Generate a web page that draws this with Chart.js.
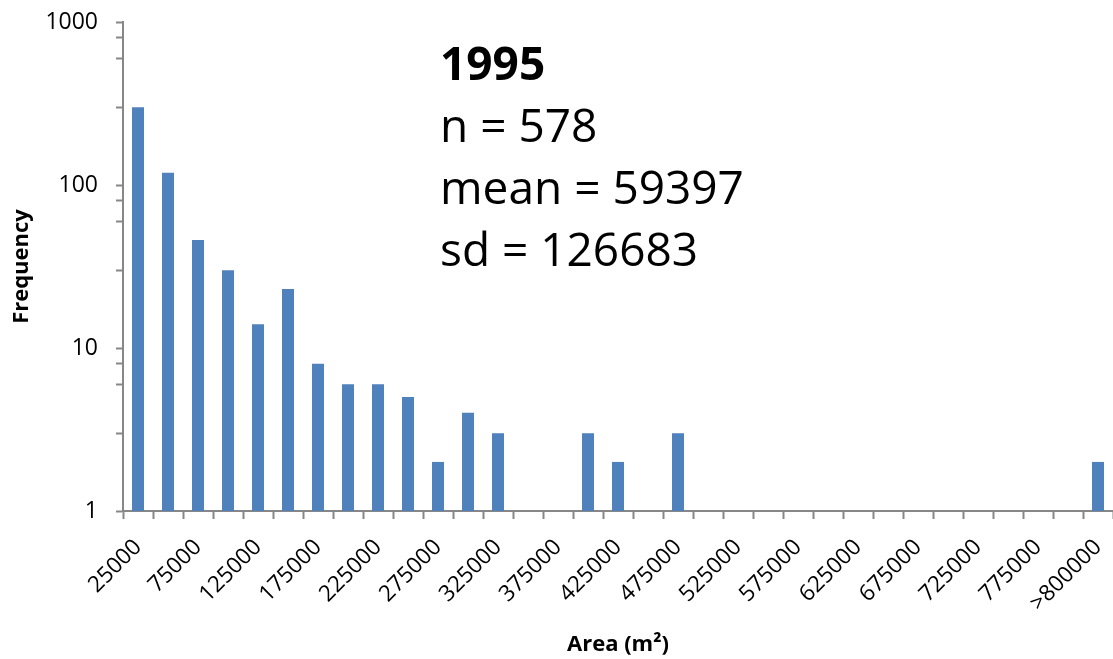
<!DOCTYPE html>
<html lang="en">
<head>
  <meta charset="UTF-8">
  <title>Area histogram 1995</title>
  <script src="https://cdn.jsdelivr.net/npm/chart.js"></script>
  <style>
    html, body { margin: 0; padding: 0; background: #fff; overflow: hidden; }
    .container { width: 1113px; height: 659px; }
  </style>
</head>
<body>
  <div class="container">
    <canvas id="myChart"></canvas>
  </div>
  <script>
    // bin labels (m2), one per bar
    const bins = ['25000', '50000', '75000', '100000', '125000', '150000', '175000', '200000',
      '225000', '250000', '275000', '300000', '325000', '350000', '375000', '400000',
      '425000', '450000', '475000', '500000', '525000', '550000', '575000', '600000',
      '625000', '650000', '675000', '700000', '725000', '750000', '775000', '800000', '>800000']
    // counts per bin (empty bins are null on the log axis)
    const counts = [300, 119, 46, 30, 14, 23, 8, 6, 6, 5, 2, 4, 3, null, null, 3,
      2, null, 3, null, null, null, null, null, null, null, null, null, null, null, null, null, 2]
    const yTickLabels = [1, 10, 100, 1000]
    const statsLines = ['n = 578', 'mean = 59397', 'sd = 126683']
    const yearLabel = '1995'

    const axisGray = '#878787'
    const font = "'Open Sans', 'Liberation Sans', sans-serif"

    const statsText = {
      id: 'statsText',
      afterDraw(chart) {
        const ctx = chart.ctx
        ctx.save()
        ctx.fillStyle = '#000'
        ctx.textAlign = 'left'
        ctx.textBaseline = 'alphabetic'
        ctx.font = 'bold 46px ' + font
        ctx.fillText(yearLabel, 440, 80)
        ctx.font = '46px ' + font
        statsLines.forEach((line, i) => {
          ctx.fillText(line, 440, 142 + i * 62)
        })
        ctx.restore()
      }
    }

    const ctx = document.getElementById('myChart')
    new Chart(ctx, {
      type: 'bar',
      data: {
        labels: bins,
        datasets: [{
          label: 'Frequency',
          data: counts,
          backgroundColor: '#4F81BD',
          borderWidth: 0,
          barPercentage: 0.4,
          categoryPercentage: 1.0
        }]
      },
      options: {
        responsive: true,
        maintainAspectRatio: false,
        animation: false,
        layout: { padding: { top: 22, right: 0, bottom: 0, left: 0 } },
        plugins: {
          legend: { display: false },
          tooltip: { enabled: false }
        },
        scales: {
          x: {
            grid: {
              display: true,
              drawOnChartArea: false,
              drawTicks: true,
              tickLength: 8,
              tickWidth: 2,
              tickColor: axisGray,
              offset: true
            },
            border: { display: true, color: axisGray, width: 2 },
            ticks: {
              autoSkip: false,
              maxRotation: 45,
              minRotation: 45,
              padding: 15,
              color: '#000',
              font: { family: font, size: 22.5 },
              callback: function (value, index) {
                return index % 2 === 0 ? this.getLabelForValue(value) : ''
              }
            },
            title: {
              display: true,
              text: 'Area (m²)',
              color: '#000',
              font: { family: font, size: 22, weight: 'bold' },
              padding: { top: 0, bottom: 1 }
            },
            afterFit(scale) {
              scale.height = 148
              scale.paddingLeft = 0
              scale.paddingRight = 0
            }
          },
          y: {
            type: 'logarithmic',
            min: 1,
            max: 1000,
            grid: {
              display: true,
              drawOnChartArea: false,
              drawTicks: true,
              tickLength: 7,
              tickWidth: 2,
              tickColor: axisGray
            },
            border: { display: true, color: axisGray, width: 2 },
            ticks: {
              padding: 18,
              color: '#000',
              font: { family: font, size: 23 },
              callback: (value) => yTickLabels.includes(value) ? String(value) : ''
            },
            afterBuildTicks(scale) {
              // keep 1..9 per decade, like the spreadsheet minor ticks
              scale.ticks = scale.ticks.filter(t => {
                const p = Math.pow(10, Math.floor(Math.log10(t.value) + 1e-9))
                return Math.abs(t.value / p - Math.round(t.value / p)) < 1e-9
              })
            },
            title: {
              display: true,
              text: 'Frequency',
              color: '#000',
              font: { family: font, size: 22, weight: 'bold' },
              padding: { top: 9, bottom: 0 }
            },
            afterFit(scale) {
              scale.width = 123
              scale.paddingTop = 0
              scale.paddingBottom = 0
            }
          }
        }
      },
      plugins: [statsText]
    })
  </script>
</body>
</html>
